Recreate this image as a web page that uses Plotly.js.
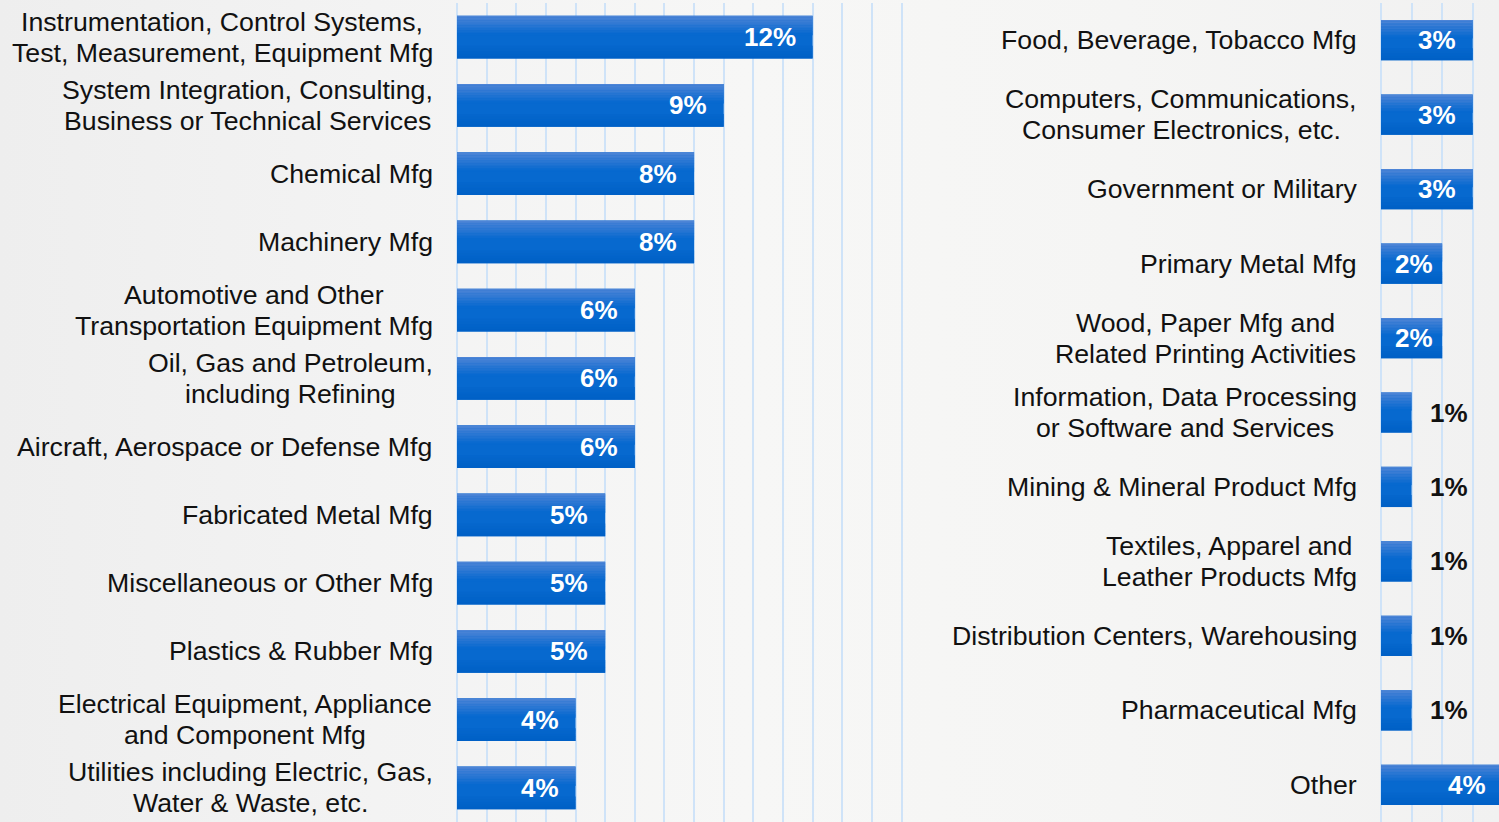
<!DOCTYPE html>
<html>
<head>
<meta charset="utf-8">
<script src="https://cdn.plot.ly/plotly-3.0.1.min.js"></script>
<style>
html,body{margin:0;padding:0;}
body{width:1499px;height:822px;overflow:hidden;
background:linear-gradient(to right,#eeeeee 0%,#f3f3f3 25%,#f7f7f6 50%,#f5f5f4 75%,#f1f1f1 100%);}
#chart{width:1499px;height:822px;}
</style>
</head>
<body>
<div id="chart"></div>
<script>
const leftCategories = [
  "Instrumentation, Control Systems,<br>Test, Measurement, Equipment Mfg",
  "System Integration, Consulting,<br>Business or Technical Services",
  "Chemical Mfg",
  "Machinery Mfg",
  "Automotive and Other<br>Transportation Equipment Mfg",
  "Oil, Gas and Petroleum,<br>including Refining",
  "Aircraft, Aerospace or Defense Mfg",
  "Fabricated Metal Mfg",
  "Miscellaneous or Other Mfg",
  "Plastics & Rubber Mfg",
  "Electrical Equipment, Appliance<br>and Component Mfg",
  "Utilities including Electric, Gas,<br>Water & Waste, etc."
];
const leftValues = [12, 9, 8, 8, 6, 6, 6, 5, 5, 5, 4, 4];

const rightCategories = [
  "Food, Beverage, Tobacco Mfg",
  "Computers, Communications,<br>Consumer Electronics, etc.",
  "Government or Military",
  "Primary Metal Mfg",
  "Wood, Paper Mfg and<br>Related Printing Activities",
  "Information, Data Processing<br>or Software and Services",
  "Mining & Mineral Product Mfg",
  "Textiles, Apparel and<br>Leather Products Mfg",
  "Distribution Centers, Warehousing",
  "Pharmaceutical Mfg",
  "Other"
];
const rightValues = [3, 3, 3, 2, 2, 1, 1, 1, 1, 1, 4];

const W = 1499, H = 822;
const FONT = "Liberation Sans, Arial, Helvetica, sans-serif";
const FS = 26.7;
const GRID = "#cfe3f8";
const leftDom = [457 / W, 903 / W], leftRange = [0, 15.05];
const rightDom = [1381 / W, 1], rightRange = [0, 3.86];
const leftPx = (leftDom[1] - leftDom[0]) * W / (leftRange[1] - leftRange[0]);
const rightPx = (rightDom[1] - rightDom[0]) * W / (rightRange[1] - rightRange[0]);

function lerpColor(a, b, t) {
  const pa = [1, 3, 5].map(i => parseInt(a.substr(i, 2), 16));
  const pb = [1, 3, 5].map(i => parseInt(b.substr(i, 2), 16));
  return "rgb(" + pa.map((v, i) => Math.round(v + (pb[i] - v) * t)).join(",") + ")";
}

function barTraces(vals, xa, ya, bw) {
  const idx = vals.map((_, i) => i);
  const base = {
    type: "bar", orientation: "h", x: vals, y: idx, xaxis: xa, yaxis: ya,
    hoverinfo: "skip", showlegend: false
  };
  const strips = [{f0: 0, f1: 1, c: "#0769cf"}];
  const n = 12, top = 0.45;
  for (let k = 0; k < n; k++) {
    strips.push({f0: top * k / n, f1: top * (k + 1) / n + 0.005,
                 c: lerpColor("#4d84d6", "#0769cf", k / (n - 1))});
  }
  const m = 5, bot = 0.7;
  for (let k = 0; k < m; k++) {
    const f0 = bot + (1 - bot) * k / m;
    strips.push({f0: f0, f1: Math.min(1, f0 + (1 - bot) / m + 0.005),
                 c: lerpColor("#0668cd", "#0060c6", (k + 1) / m)});
  }
  return strips.map(s => Object.assign({}, base, {
    width: bw * (s.f1 - s.f0),
    offset: -bw / 2 + bw * s.f0,
    marker: {color: s.c, line: {width: 0}}
  }));
}

const leftBW = 0.63, rightBW = 0.54;
const data = [].concat(
  barTraces(leftValues, "x", "y", leftBW),
  barTraces(rightValues, "x2", "y2", rightBW)
);

const ctx = document.createElement("canvas").getContext("2d");
ctx.font = FS + "px 'Liberation Sans', Arial, sans-serif";
function textW(s) { return ctx.measureText(s.replace(/&amp;/g, "&")).width; }

const annotations = [];
const LINE = 31;
function addLabels(cats, vals, xa, ya, range, pxPer) {
  cats.forEach((c, i) => {
    const lines = c.split("<br>");
    const maxW = Math.max.apply(null, lines.map(textW));
    lines.forEach((ln, k) => {
      annotations.push({
        xref: xa, yref: ya, x: 0, y: i, text: ln, showarrow: false,
        xanchor: "center", yanchor: "middle",
        xshift: -24 - maxW / 2,
        yshift: ((lines.length - 1) / 2 - k) * LINE,
        font: {family: FONT, size: FS, color: "#111"}
      });
    });
    const v = vals[i];
    const inside = v >= 2;
    const barPx = v * pxPer;
    const xv = Math.min(v, range[1]);
    const extra = (v - xv) * pxPer;
    annotations.push({
      xref: xa, yref: ya, x: xv, y: i, text: "<b>" + v + "%</b>",
      showarrow: false, yanchor: "middle",
      xanchor: inside ? "right" : "left",
      xshift: inside ? (barPx < 70 ? -7 : -15) + extra : 16,
      font: {family: FONT, size: 26, color: inside ? "#ffffff" : "#111111"}
    });
  });
}
addLabels(leftCategories, leftValues, "x", "y", leftRange, leftPx);
addLabels(rightCategories, rightValues, "x2", "y2", rightRange, rightPx);

const axX = {
  showgrid: true, gridcolor: GRID, gridwidth: 2, dtick: 1, tick0: 0,
  zeroline: true, zerolinecolor: GRID, zerolinewidth: 2,
  showticklabels: false, ticks: "", showline: false, fixedrange: true
};
const layout = {
  width: W, height: H,
  margin: {l: 0, r: 0, t: 3, b: 0},
  paper_bgcolor: "rgba(0,0,0,0)", plot_bgcolor: "rgba(0,0,0,0)",
  barmode: "overlay",
  font: {family: FONT},
  xaxis: Object.assign({}, axX, {domain: leftDom, range: leftRange}),
  xaxis2: Object.assign({}, axX, {domain: rightDom, range: rightRange, anchor: "y2"}),
  yaxis: {domain: [0, 1], range: [leftValues.length - 0.5, -0.5], showgrid: false,
          zeroline: false, showticklabels: false, ticks: "", anchor: "x"},
  yaxis2: {domain: [0, 1], range: [rightValues.length - 0.5, -0.5], showgrid: false,
           zeroline: false, showticklabels: false, ticks: "", anchor: "x2"},
  annotations: annotations
};
Plotly.newPlot("chart", data, layout, {staticPlot: true, displayModeBar: false});
</script>
</body>
</html>
